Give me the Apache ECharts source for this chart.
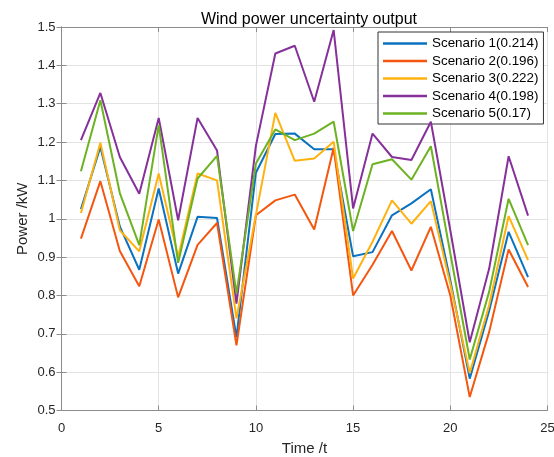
<!DOCTYPE html>
<html>
<head>
<meta charset="utf-8">
<script src="https://cdn.jsdelivr.net/npm/echarts@6/dist/echarts.min.js"></script>
<style>
  html, body { margin: 0; padding: 0; background: #fff; }
  #chart { width: 554px; height: 457px; }
</style>
</head>
<body>
<div id="chart"></div>
<script>
// Hourly time steps
const hours = [1,2,3,4,5,6,7,8,9,10,11,12,13,14,15,16,17,18,19,20,21,22,23,24];

// Wind power of each scenario (kW)
const scenario1 = [1.025,1.187,0.980,0.867,1.079,0.857,1.005,1.002,0.691,1.120,1.221,1.222,1.181,1.181,0.902,0.913,1.009,1.040,1.077,0.840,0.583,0.760,0.966,0.848];
const scenario2 = [0.948,1.098,0.916,0.824,0.998,0.795,0.932,0.989,0.670,1.009,1.048,1.063,0.972,1.185,0.800,0.880,0.968,0.865,0.979,0.800,0.535,0.705,0.920,0.822];
const scenario3 = [1.015,1.198,0.970,0.915,1.118,0.900,1.118,1.100,0.740,1.010,1.276,1.151,1.157,1.201,0.844,0.940,1.048,0.987,1.046,0.830,0.598,0.775,1.007,0.892];
const scenario4 = [1.205,1.328,1.161,1.065,1.263,0.996,1.263,1.178,0.779,1.190,1.431,1.451,1.305,1.492,1.027,1.222,1.161,1.153,1.253,0.970,0.678,0.870,1.163,1.008];
const scenario5 = [1.124,1.309,1.067,0.931,1.244,0.885,1.105,1.164,0.805,1.144,1.233,1.205,1.222,1.253,0.968,1.142,1.155,1.102,1.189,0.910,0.633,0.810,1.052,0.931];

const seriesNames = ['Scenario 1(0.214)','Scenario 2(0.196)','Scenario 3(0.222)','Scenario 4(0.198)','Scenario 5(0.17)'];
const seriesValues = [scenario1, scenario2, scenario3, scenario4, scenario5];
const seriesColors = ['#0a72bf','#f5560f','#ffb10f','#86309a','#6cb222'];

const FONT = '"Liberation Sans", Arial, Helvetica, sans-serif';
const AXIS_COLOR = '#8c8c8c';
const TEXT_COLOR = '#262626';

const chart = echarts.init(document.getElementById('chart'), null, { renderer: 'canvas' });

const boxAxis = {
  axisLine: { show: true, lineStyle: { color: AXIS_COLOR, width: 1 } },
  axisTick: { show: true, inside: true, length: 5, lineStyle: { color: AXIS_COLOR } },
  axisLabel: { show: false },
  splitLine: { show: false }
};

chart.setOption({
  animation: false,
  backgroundColor: '#fff',
  title: {
    text: 'Wind power uncertainty output',
    left: 304, top: 7, textAlign: 'center',
    textStyle: { fontFamily: FONT, fontSize: 16, fontWeight: 'normal', color: '#000' }
  },
  grid: { left: 61.5, right: 6.5, top: 27, bottom: 46.5, containLabel: false, outerBoundsMode: 'none' },
  legend: {
    orient: 'vertical',
    left: 378, top: 32,
    padding: [4, 5, 3, 5],
    itemGap: 2.5,
    itemWidth: 44, itemHeight: 2.5,
    icon: 'rect',
    backgroundColor: '#fff',
    borderColor: '#333', borderWidth: 1,
    textStyle: { fontFamily: FONT, fontSize: 13.4, color: '#000', lineHeight: 15 },
    data: seriesNames
  },
  xAxis: [
    {
      type: 'value', min: 0, max: 25, interval: 5,
      name: 'Time /t', nameLocation: 'middle', nameGap: 31,
      nameTextStyle: { fontFamily: FONT, fontSize: 15, color: TEXT_COLOR },
      axisLine: { show: true, lineStyle: { color: AXIS_COLOR, width: 1 } },
      axisTick: { show: true, inside: true, length: 5, lineStyle: { color: AXIS_COLOR } },
      axisLabel: { fontFamily: FONT, fontSize: 13, color: TEXT_COLOR, margin: 11 },
      splitLine: { show: true, lineStyle: { color: '#e3e3e3', width: 1 } }
    },
    Object.assign({ type: 'value', position: 'top', min: 0, max: 25, interval: 5 }, boxAxis)
  ],
  yAxis: [
    {
      type: 'value', min: 0.5, max: 1.5, interval: 0.1,
      name: 'Power /kW', nameLocation: 'middle', nameGap: 31, nameMoveOverlap: false,
      nameTextStyle: { fontFamily: FONT, fontSize: 15, color: TEXT_COLOR },
      axisLine: { show: true, lineStyle: { color: AXIS_COLOR, width: 1 } },
      axisTick: { show: true, inside: true, length: 5, lineStyle: { color: AXIS_COLOR } },
      axisLabel: { fontFamily: FONT, fontSize: 13, color: TEXT_COLOR, margin: 6,
        formatter: v => String(Math.round(v * 10) / 10) },
      splitLine: { show: true, lineStyle: { color: '#e3e3e3', width: 1 } }
    },
    Object.assign({ type: 'value', position: 'right', min: 0.5, max: 1.5, interval: 0.1 }, boxAxis)
  ],
  series: seriesNames.map((name, i) => ({
    name: name,
    type: 'line',
    xAxisIndex: 0, yAxisIndex: 0,
    data: hours.map((h, k) => [h, seriesValues[i][k]]),
    showSymbol: false, symbol: 'none',
    color: seriesColors[i],
    lineStyle: { color: seriesColors[i], width: 2 },
    z: 2 + i
  }))
});
</script>
</body>
</html>
